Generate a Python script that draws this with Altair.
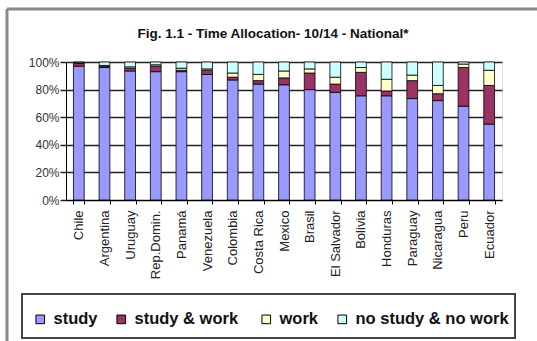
import altair as alt
import pandas as pd

# Share of youth (10-14) by activity, per country, in percent
countries = ["Chile", "Argentina", "Uruguay", "Rep.Domin.", "Panamá", "Venezuela",
             "Colombia", "Costa Rica", "Mexico", "Brasil", "El Salvador", "Bolivia",
             "Honduras", "Paraguay", "Nicaragua", "Peru", "Ecuador"]
study = [97, 96, 93.5, 93, 93, 91, 87, 84, 83.5, 80, 78, 75.5, 75.5, 73.5, 72, 68, 55]
study_work = [2, 1, 2, 4, 1, 3, 2, 2.5, 5, 12, 6, 17, 3.5, 13, 5, 28, 28]
work = [0.5, 0.5, 1, 1, 1.5, 1, 3, 4.5, 5, 3, 5, 3.5, 8.5, 4, 6, 2.5, 11]
no_study_no_work = [0.5, 2.5, 3.5, 2, 4.5, 5, 8, 9, 6.5, 5, 11, 4, 12.5, 9.5, 17, 1.5, 6]

activities = ["study", "study  & work", "work", "no study & no work"]
colors = ["#9999FF", "#993366", "#FFFFCC", "#CCFFFF"]

rows = []
for k, (name, series) in enumerate(zip(activities, [study, study_work, work, no_study_no_work])):
    for c, v in zip(countries, series):
        rows.append({"country": c, "activity": name, "share": v, "k": k})
df = pd.DataFrame(rows)

FONT = "Liberation Sans"

bars = alt.Chart(df).mark_bar(stroke="black", strokeWidth=0.8).encode(
    x=alt.X("country:N", sort=countries, title=None,
            scale=alt.Scale(paddingInner=0.58, paddingOuter=0.29),
            axis=alt.Axis(labelAngle=-90, tickBand="extent", tickSize=4,
                          tickColor="black", domainColor="black", labelPadding=6,
                          labelFontSize=13, labelFont=FONT, labelColor="#222")),
    y=alt.Y("share:Q", stack="normalize", title=None,
            scale=alt.Scale(domain=[0, 1]),
            axis=alt.Axis(values=[0, 0.2, 0.4, 0.6, 0.8, 1], format=".0%",
                          grid=True, gridColor="#222", gridWidth=1.5,
                          tickSize=6, tickColor="#222", tickWidth=1.5,
                          domainColor="black", labelPadding=1,
                          labelFontSize=12, labelFont=FONT, labelColor="#333")),
    color=alt.Color("activity:N", sort=activities,
                    scale=alt.Scale(domain=activities, range=colors),
                    legend=alt.Legend(title=None, orient="none", direction="horizontal",
                                      columns=4, legendX=-34, legendY=249,
                                      symbolType="square", symbolSize=75,
                                      symbolStrokeColor="black", symbolStrokeWidth=1,
                                      symbolOpacity=1,
                                      labelFont=FONT, labelFontSize=16.5,
                                      labelFontWeight="bold", labelColor="#111",
                                      labelOffset=5, columnPadding=15, padding=0)),
    order=alt.Order("k:Q", sort="ascending"),
)

one = pd.DataFrame({"v": [0]})

# Outer frame of the figure
frame_top = alt.Chart(one).mark_rule(color="#8a8a8a", strokeWidth=3).encode(
    x=alt.value(-59), x2=alt.value(471), y=alt.value(-53))
frame_left = alt.Chart(one).mark_rule(color="#8a8a8a", strokeWidth=3).encode(
    x=alt.value(-59), y=alt.value(-53), y2=alt.value(279))

# Box around the legend
legend_box = alt.Chart(one).mark_rect(fill="white", stroke="#444", strokeWidth=2).encode(
    x=alt.value(-44), x2=alt.value(449), y=alt.value(232), y2=alt.value(276))

chart = alt.layer(frame_top, frame_left, legend_box, bars).properties(
    width=436, height=138,
    title=alt.TitleParams("Fig. 1.1 - Time Allocation-  10/14 - National*",
                          font=FONT, fontSize=13.5, fontWeight="bold", color="#111",
                          anchor="middle", frame="group", dx=-11, offset=-44,
                          baseline="alphabetic"),
    autosize=alt.AutoSizeParams(type="none"),
    padding={"left": 66, "top": 62, "right": 35, "bottom": 141},
).configure_view(fill="#C0C0C0", stroke=None).configure(background="white")

chart.save("out.html", embed_options={"renderer": "svg", "actions": False})
